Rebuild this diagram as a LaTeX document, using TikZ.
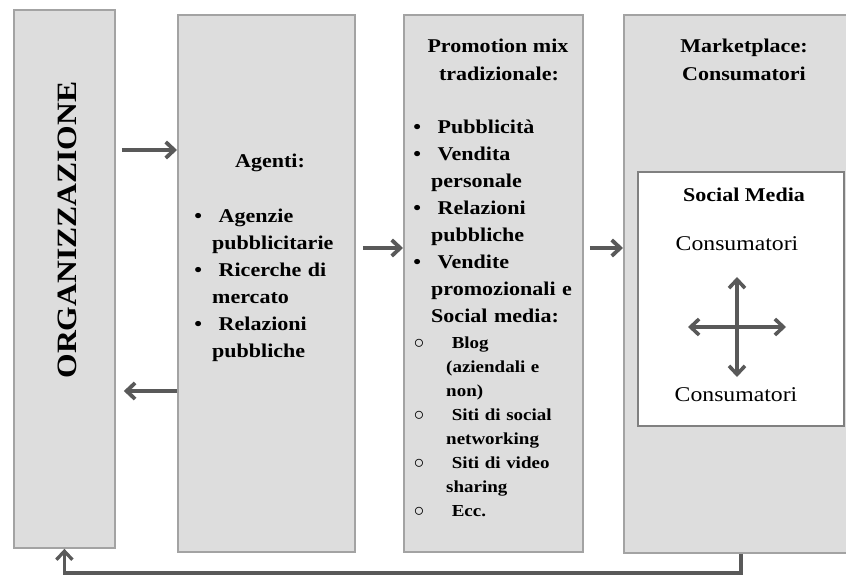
\documentclass[tikz,border=0pt]{standalone}
\usepackage{fontspec}
\setmainfont{Liberation Serif}[FakeStretch=1.13]
\usetikzlibrary{arrows.meta}

\definecolor{boxfill}{RGB}{221,221,221}
\definecolor{boxline}{RGB}{163,163,163}
\definecolor{arrowgray}{RGB}{89,89,89}
\definecolor{innerline}{RGB}{128,128,128}

% list markers hanging to the left of the text margin
\newcommand{\bp}{\leavevmode\llap{\textbullet\hspace{10pt}}\ }
\newcommand{\cp}{\leavevmode\llap{{\fontsize{20}{20}\selectfont$\circ$}\hspace{22pt}}\ }
\newcommand{\topline}[1]{\leavevmode\rule{0pt}{#1}}

\begin{document}
\begin{tikzpicture}[x=1pt,y=-1pt,
  panel/.style={draw=boxline, fill=boxfill, line width=1.8pt, anchor=north west, inner sep=0pt},
  barb/.tip={Straight Barb[length=8.5pt,width=16pt]},
  flow/.style={draw=arrowgray, line width=3.8pt, -barb},
  both/.style={draw=arrowgray, line width=3.6pt, barb-barb},
  txt/.style={inner sep=0pt, text=black, font=\bfseries\fontsize{19.5}{27}\selectfont},
  plain/.style={inner sep=0pt, text=black, font=\fontsize{21}{27}\selectfont},
  list/.style={txt, anchor=north west, text width=200pt, align=left},
  sublist/.style={list, font=\bfseries\fontsize{16.8}{24}\selectfont},
]
\useasboundingbox (0,0) rectangle (846,577);
\fill[white] (0,0) rectangle (846,577);

% panels
\node[panel, minimum width=101pt, minimum height=538pt] (org) at (13,9) {};
\node[panel, minimum width=177pt, minimum height=537pt] (agt) at (177,14) {};
\node[panel, minimum width=179pt, minimum height=537pt] (pro) at (403,14) {};
\node[panel, minimum width=234pt, minimum height=538pt] (mkt) at (623,14) {};
\node[panel, fill=white, draw=innerline, minimum width=206pt, minimum height=254pt] (soc) at (637,171) {};

% rows used by the connectors
\coordinate (r1) at (0,150);
\coordinate (r2) at (0,391);
\coordinate (r3) at (0,248);
\coordinate (r4) at (0,573);

% connectors
\draw[flow] ([xshift=6pt]org.east |- r1) -- (agt.west |- r1);
\draw[flow] (agt.west |- r2) -- ([xshift=8pt]org.east |- r2);
\draw[flow] ([xshift=7pt]agt.east |- r3) -- (pro.west |- r3);
\draw[flow] ([xshift=6pt]pro.east |- r3) -- (mkt.west |- r3);
\draw[flow, line width=3.3pt] (mkt.south) -- (mkt.south |- r4) -| (org.south);

% four-way arrows between consumers
\coordinate (ct) at (737,277);
\coordinate (cb) at (737,377);
\coordinate (cl) at (688,327);
\coordinate (cr) at (786,327);
\draw[both] (ct) -- (cb);
\draw[both] (cl) -- (cr);

% texts
\node[txt, rotate=90, font=\bfseries\fontsize{28}{30}\selectfont] (orgt) at (67,230) {ORGANIZZAZIONE};

\node[txt, anchor=base] (agth) at (270,168) {Agenti:};
\node[list] (agtl) at (212,207) {\topline{15pt}\bp Agenzie\\
  pubblicitarie\\
  \bp Ricerche di\\
  mercato\\
  \bp Relazioni\\
  pubbliche};

\node[txt, anchor=base] (proh1) at (498,53) {Promotion mix};
\node[txt, anchor=base] (proh2) at (499,81) {tradizionale:};
\node[list] (prol) at (431,118) {\topline{15pt}\bp Pubblicità\\
  \bp Vendita\\
  personale\\
  \bp Relazioni\\
  pubbliche\\
  \bp Vendite\\
  promozionali e\\
  Social media:};
\node[sublist] (pros) at (446,335) {\topline{13pt}\cp Blog\\
  (aziendali e\\
  non)\\
  \cp Siti di social\\
  networking\\
  \cp Siti di video\\
  sharing\\
  \cp Ecc.};

\node[txt, anchor=base] (mkth1) at (744,53) {Marketplace:};
\node[txt, anchor=base] (mkth2) at (744,81) {Consumatori};

\node[txt, anchor=base] (soch) at (744,202) {Social Media};
\node[plain, anchor=base] (con1) at (737,251) {Consumatori};
\node[plain, anchor=base] (con2) at (736,401) {Consumatori};
\end{tikzpicture}
\end{document}
